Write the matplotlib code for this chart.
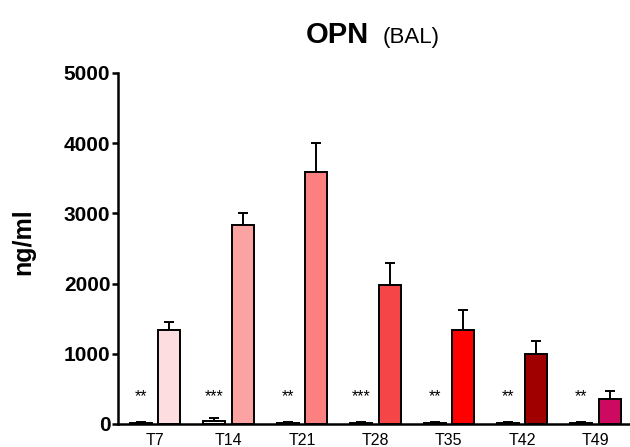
import matplotlib
matplotlib.use("Agg")
import matplotlib.pyplot as plt
import numpy as np

plt.rcParams['font.family'] = ['Liberation Sans', 'DejaVu Sans']

# Time points and OPN concentration in BAL (ng/ml)
timepoints = ["T7", "T14", "T21", "T28", "T35", "T42", "T49"]
control_mean = [20, 45, 20, 20, 20, 20, 15]
control_err = [15, 45, 12, 10, 12, 10, 8]
treated_mean = [1340, 2830, 3590, 1980, 1340, 1000, 360]
treated_err = [110, 180, 410, 310, 290, 180, 110]
significance = ["**", "***", "**", "***", "**", "**", "**"]
bar_colors = ["#FDDDE0", "#FBA2A3", "#FD8080", "#F54547",
              "#FE0000", "#A00000", "#CE0A60"]

fig = plt.figure(figsize=(6.3, 4.47), dpi=100)
ax = fig.add_axes([0.1873, 0.0515, 0.8127, 0.7852])

x = np.arange(len(timepoints))
width = 0.30
offset = 0.194

ax.bar(x - offset, control_mean, width, color="white", edgecolor="black",
       linewidth=1.4, zorder=2)
ax.errorbar(x - offset, control_mean, yerr=[np.zeros(len(x)), control_err],
            fmt="none", ecolor="black", elinewidth=1.4, capsize=3.6,
            capthick=1.4, zorder=3)
ax.bar(x + offset, treated_mean, width, color=bar_colors, edgecolor="black",
       linewidth=1.4, zorder=2)
ax.errorbar(x + offset, treated_mean, yerr=[np.zeros(len(x)), treated_err],
            fmt="none", ecolor="black", elinewidth=1.4, capsize=3.6,
            capthick=1.4, zorder=1)

for xi, s in zip(x, significance):
    ax.text(xi - offset, 330, s, ha="center", va="baseline", fontsize=11.5)

ax.set_xlim(-0.507, 6.468)
ax.set_ylim(0, 5000)
ax.set_yticks([0, 1000, 2000, 3000, 4000, 5000])
ax.set_xticks(x)
ax.set_xticklabels(timepoints, fontsize=11.5)
for lbl in ax.get_yticklabels():
    lbl.set_fontweight("bold")
    lbl.set_fontsize(15)

for side in ("top", "right"):
    ax.spines[side].set_visible(False)
for side in ("left", "bottom"):
    ax.spines[side].set_linewidth(1.8)
ax.spines["bottom"].set_zorder(4)

ax.tick_params(axis="y", direction="out", length=4.5, width=1.8, pad=1)
ax.tick_params(axis="x", length=0, pad=6.5)

fig.text(0.485, 0.904, "OPN", fontsize=21, fontweight="bold",
         ha="left", va="baseline")
fig.text(383 / 630, 0.904, "(BAL)", fontsize=16, ha="left", va="baseline")
fig.text(23 / 630, 1 - 242 / 447, "ng/ml", fontsize=18, fontweight="bold",
         rotation=90, ha="center", va="center")

fig.savefig("out.png", dpi=100)
